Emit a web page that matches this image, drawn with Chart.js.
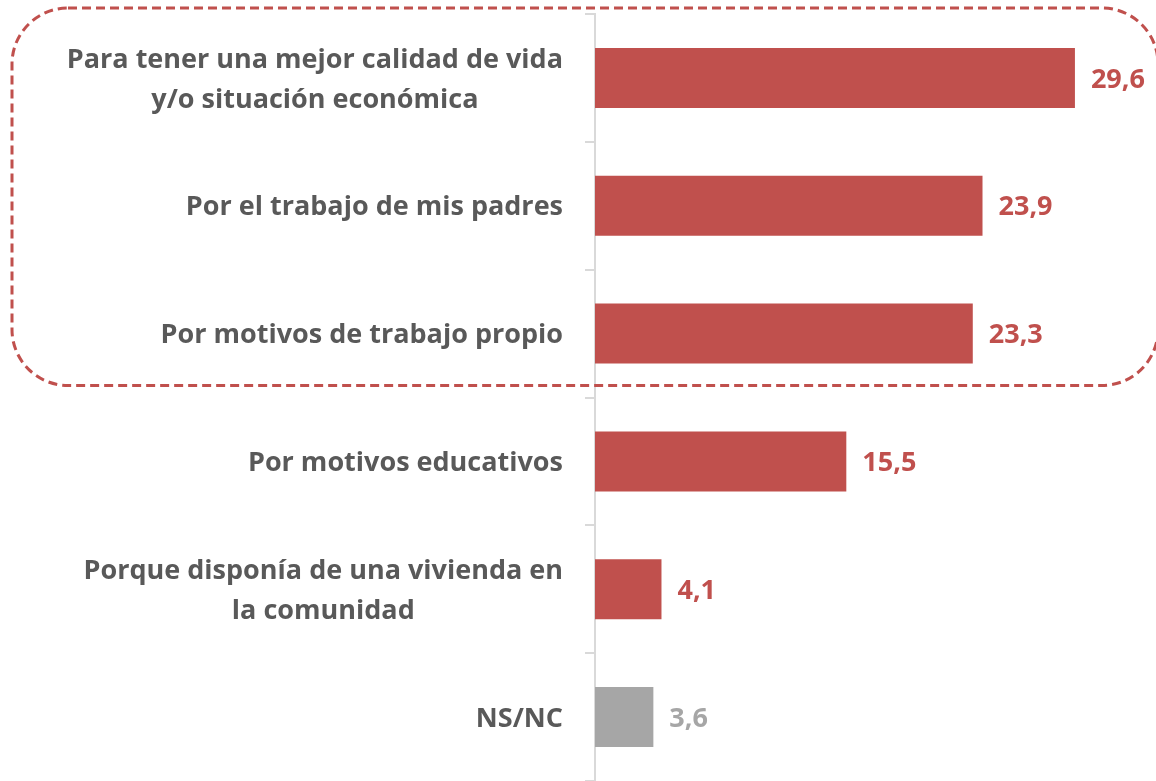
<!DOCTYPE html>
<html>
<head>
<meta charset="utf-8">
<script src="https://cdn.jsdelivr.net/npm/chart.js@4/dist/chart.umd.min.js"></script>
<style>
  html, body { margin: 0; padding: 0; background: #fff; }
  #wrap { width: 1156px; height: 781px; }
</style>
</head>
<body>
<div id="wrap"><canvas id="canvas_motivos" width="1156" height="781"></canvas></div>
<script>
// categories (multi-line labels as arrays)
var categorias = [
  ["Para tener una mejor calidad de vida", "y/o situación económica"],
  ["Por el trabajo de mis padres"],
  ["Por motivos de trabajo propio"],
  ["Por motivos educativos"],
  ["Porque disponía de una vivienda en", "la comunidad"],
  ["NS/NC"]
];
var porcentajes = [29.6, 23.9, 23.3, 15.5, 4.1, 3.6];
var coloresBarra = ["#C0504D", "#C0504D", "#C0504D", "#C0504D", "#C0504D", "#A6A6A6"];
var FONT = "bold 27px 'Open Sans'";

// category labels: block right-aligned to the axis, lines centered in the block
var etiquetasPlugin = {
  id: 'etiquetas',
  afterDraw: function(chart) {
    var ctx = chart.ctx;
    var y = chart.scales.y;
    var right = y.right - 32;
    ctx.save();
    ctx.font = FONT;
    ctx.fillStyle = "#595959";
    ctx.textAlign = "center";
    ctx.textBaseline = "middle";
    categorias.forEach(function(lines, i) {
      var maxW = 0;
      lines.forEach(function(l) { maxW = Math.max(maxW, ctx.measureText(l).width); });
      var cx = right - maxW / 2;
      var cy = y.getPixelForValue(i) + 2;
      var lh = 40;
      lines.forEach(function(l, j) {
        ctx.fillText(l, cx, cy + (j - (lines.length - 1) / 2) * lh);
      });
    });
    ctx.restore();
  }
};

// value labels at the bar ends
var valoresPlugin = {
  id: 'valores',
  afterDatasetsDraw: function(chart) {
    var ctx = chart.ctx;
    var meta = chart.getDatasetMeta(0);
    ctx.save();
    ctx.font = FONT;
    ctx.textAlign = "left";
    ctx.textBaseline = "middle";
    meta.data.forEach(function(bar, i) {
      ctx.fillStyle = coloresBarra[i];
      ctx.fillText(porcentajes[i].toFixed(1).replace(".", ","), bar.x + 16, bar.y + 2);
    });
    ctx.restore();
  }
};

// dashed rounded box around the first three categories
var recuadroPlugin = {
  id: 'recuadro',
  afterDraw: function(chart) {
    var ctx = chart.ctx;
    var y = chart.scales.y;
    var half = (y.getPixelForValue(1) - y.getPixelForValue(0)) / 2;
    var top = y.getPixelForValue(0) - half - 6;
    var bottom = y.getPixelForValue(2) + half - 12;
    var left = 12, right = chart.width + 2, r = 56;
    ctx.save();
    ctx.strokeStyle = "#C0504D";
    ctx.lineWidth = 3;
    ctx.setLineDash([9, 5]);
    ctx.beginPath();
    ctx.moveTo(left + r, top);
    ctx.lineTo(right - r, top);
    ctx.arcTo(right, top, right, top + r, r);
    ctx.lineTo(right, bottom - r);
    ctx.arcTo(right, bottom, right - r, bottom, r);
    ctx.lineTo(left + r, bottom);
    ctx.arcTo(left, bottom, left, bottom - r, r);
    ctx.lineTo(left, top + r);
    ctx.arcTo(left, top, left + r, top, r);
    ctx.closePath();
    ctx.stroke();
    ctx.restore();
  }
};

var ctx = document.getElementById("canvas_motivos");
var chart = new Chart(ctx, {
  type: 'bar',
  data: {
    labels: categorias.map(function(c) { return c.join(" "); }),
    datasets: [{
      data: porcentajes,
      backgroundColor: coloresBarra,
      borderWidth: 0,
      categoryPercentage: 1,
      barPercentage: 0.47
    }]
  },
  options: {
    indexAxis: 'y',
    responsive: false,
    devicePixelRatio: 1,
    animation: false,
    layout: { padding: { top: 14, right: 0, bottom: 0, left: 0 } },
    plugins: {
      legend: { display: false },
      tooltip: { enabled: false }
    },
    scales: {
      x: {
        display: false,
        min: 0,
        max: 34.6
      },
      y: {
        afterFit: function(scale) { scale.width = 595; },
        ticks: { display: false },
        grid: {
          offset: true,
          drawOnChartArea: false,
          drawTicks: true,
          tickLength: 10,
          color: "#D9D9D9",
          lineWidth: 2
        },
        border: { display: true, color: "#D9D9D9", width: 2 }
      }
    }
  },
  plugins: [etiquetasPlugin, valoresPlugin, recuadroPlugin]
});
</script>
</body>
</html>
